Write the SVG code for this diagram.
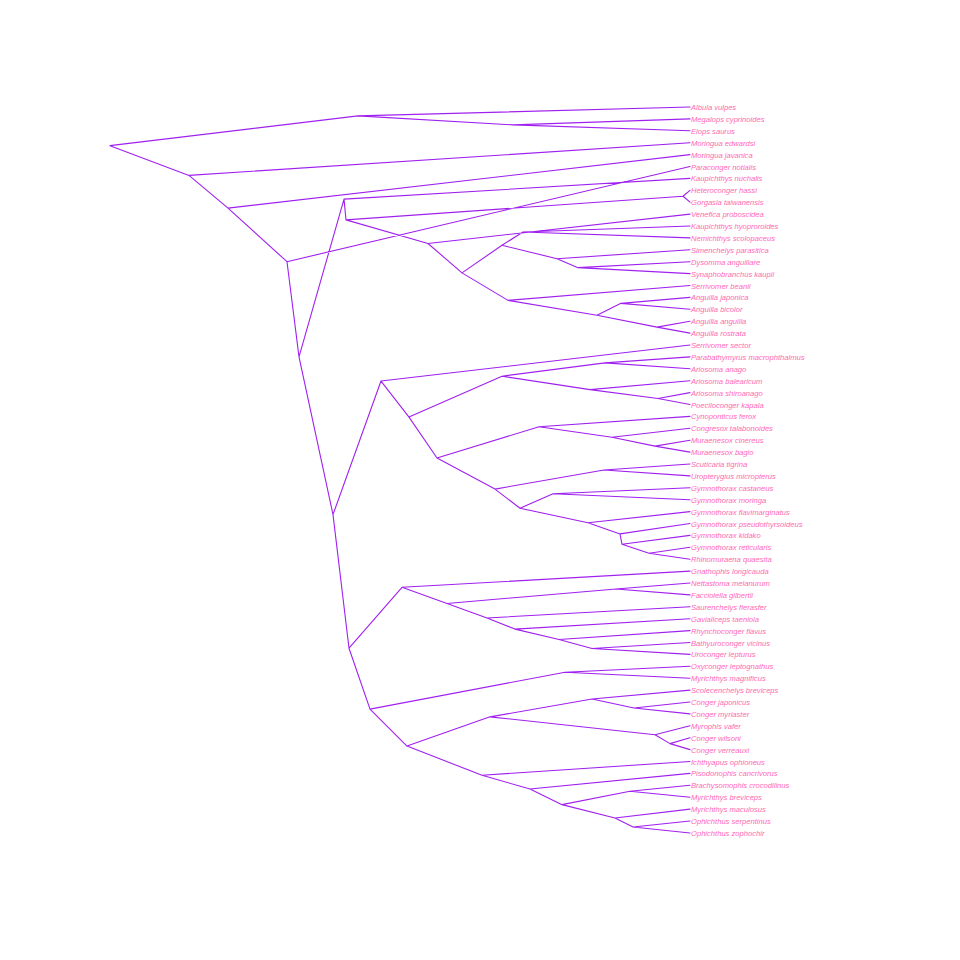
<svg xmlns="http://www.w3.org/2000/svg" width="960" height="960" viewBox="0 0 960 960">
<style>
.e{fill:none;stroke:#A020F0;stroke-width:1.1;stroke-linecap:round}
.t{font-family:"Liberation Sans",Arial,sans-serif;font-style:italic;font-size:7.6px;fill:#FF69B4}
</style>
<rect width="960" height="960" fill="#FFFFFF"/>
<g id="connectors" class="e">
<path d="M110,145.65L358,115.9M110,145.65L189,175.4
M358,115.9L690,107M358,115.9L513,124.85M513,124.85L690,118.9M513,124.85L690,130.8
M189,175.4L690,142.7M189,175.4L228,208.15
M228,208.15L690,154.6M228,208.15L287,261.7
M287,261.7L690,166.5M287,261.7L299,356.9
M299,356.9L344,199.15M299,356.9L333,514.6
M344,199.15L690,178.4M344,199.15L346,219.9
M346,219.9L683,196.25M346,219.9L428,243.5
M683,196.25L690,190.3M683,196.25L690,202.2
M428,243.5L690,214.1M428,243.5L462,272.85
M462,272.85L502,245.3M462,272.85L508,300.4
M502,245.3L523,231.95M502,245.3L557,258.7
M523,231.95L690,226M523,231.95L690,237.9
M557,258.7L690,249.8M557,258.7L578,267.65
M578,267.65L690,261.7M578,267.65L690,273.6
M508,300.4L690,285.5M508,300.4L597,315.25
M597,315.25L621,303.35M597,315.25L657,327.15
M621,303.35L690,297.4M621,303.35L690,309.3
M657,327.15L690,321.2M657,327.15L690,333.1
M333,514.6L381,381.05M333,514.6L349,648.2
M381,381.05L690,345M381,381.05L409,417.1
M409,417.1L502,376.2M409,417.1L437,457.95
M502,376.2L605,362.85M502,376.2L590,389.6
M605,362.85L690,356.9M605,362.85L690,368.8
M590,389.6L690,380.7M590,389.6L658,398.55
M658,398.55L690,392.6M658,398.55L690,404.5
M437,457.95L539,426.8M437,457.95L495,489.1
M539,426.8L690,416.4M539,426.8L612,437.2
M612,437.2L690,428.3M612,437.2L655,446.15
M655,446.15L690,440.2M655,446.15L690,452.1
M495,489.1L604,469.95M495,489.1L520,508.25
M604,469.95L690,464M604,469.95L690,475.9
M520,508.25L553,493.75M520,508.25L588,522.75
M553,493.75L690,487.8M553,493.75L690,499.7
M588,522.75L690,511.6M588,522.75L620,533.9
M620,533.9L690,523.5M620,533.9L622,544.3
M622,544.3L690,535.4M622,544.3L649,553.25
M649,553.25L690,547.3M649,553.25L690,559.2
M349,648.2L402,587.3M349,648.2L370,709.15
M402,587.3L690,571.1M402,587.3L447,603.45
M447,603.45L616,588.95M447,603.45L487,617.95
M616,588.95L690,583M616,588.95L690,594.9
M487,617.95L690,606.8M487,617.95L515,629.1
M515,629.1L690,618.7M515,629.1L559,639.5
M559,639.5L690,630.6M559,639.5L592,648.45
M592,648.45L690,642.5M592,648.45L690,654.4
M370,709.15L565,672.25M370,709.15L407,746.05
M565,672.25L690,666.3M565,672.25L690,678.2
M407,746.05L490,716.85M407,746.05L482,775.25
M490,716.85L592,699M490,716.85L655,734.7
M592,699L690,690.1M592,699L634,707.95
M634,707.95L690,702M634,707.95L690,713.9
M655,734.7L690,725.8M655,734.7L670,743.65
M670,743.65L690,737.7M670,743.65L690,749.6
M482,775.25L690,761.5M482,775.25L530,789
M530,789L690,773.4M530,789L562,804.65
M562,804.65L630,791.25M562,804.65L615,818.05
M630,791.25L690,785.3M630,791.25L690,797.2
M615,818.05L690,809.1M615,818.05L633,827
M633,827L690,821M633,827L690,833"/>
</g>
<g class="t">
<g id="tip01"><text x="691" y="110">Albula vulpes</text></g>
<g id="tip02"><text x="691" y="121.9">Megalops cyprinoides</text></g>
<g id="tip03"><text x="691" y="133.8">Elops saurus</text></g>
<g id="tip04"><text x="691" y="145.7">Moringua edwardsi</text></g>
<g id="tip05"><text x="691" y="157.6">Moringua javanica</text></g>
<g id="tip06"><text x="691" y="169.5">Paraconger notialis</text></g>
<g id="tip07"><text x="691" y="181.4">Kaupichthys nuchalis</text></g>
<g id="tip08"><text x="691" y="193.3">Heteroconger hassi</text></g>
<g id="tip09"><text x="691" y="205.2">Gorgasia taiwanensis</text></g>
<g id="tip10"><text x="691" y="217.1">Venefica proboscidea</text></g>
<g id="tip11"><text x="691" y="229">Kaupichthys hyoproroides</text></g>
<g id="tip12"><text x="691" y="240.9">Nemichthys scolopaceus</text></g>
<g id="tip13"><text x="691" y="252.8">Simenchelys parasitica</text></g>
<g id="tip14"><text x="691" y="264.7">Dysomma anguillare</text></g>
<g id="tip15"><text x="691" y="276.6">Synaphobranchus kaupii</text></g>
<g id="tip16"><text x="691" y="288.5">Serrivomer beanii</text></g>
<g id="tip17"><text x="691" y="300.4">Anguilla japonica</text></g>
<g id="tip18"><text x="691" y="312.3">Anguilla bicolor</text></g>
<g id="tip19"><text x="691" y="324.2">Anguilla anguilla</text></g>
<g id="tip20"><text x="691" y="336.1">Anguilla rostrata</text></g>
<g id="tip21"><text x="691" y="348">Serrivomer sector</text></g>
<g id="tip22"><text x="691" y="359.9">Parabathymyrus macrophthalmus</text></g>
<g id="tip23"><text x="691" y="371.8">Ariosoma anago</text></g>
<g id="tip24"><text x="691" y="383.7">Ariosoma balearicum</text></g>
<g id="tip25"><text x="691" y="395.6">Ariosoma shiroanago</text></g>
<g id="tip26"><text x="691" y="407.5">Poeciloconger kapala</text></g>
<g id="tip27"><text x="691" y="419.4">Cynoponticus ferox</text></g>
<g id="tip28"><text x="691" y="431.3">Congresox talabonoides</text></g>
<g id="tip29"><text x="691" y="443.2">Muraenesox cinereus</text></g>
<g id="tip30"><text x="691" y="455.1">Muraenesox bagio</text></g>
<g id="tip31"><text x="691" y="467">Scuticaria tigrina</text></g>
<g id="tip32"><text x="691" y="478.9">Uropterygius micropterus</text></g>
<g id="tip33"><text x="691" y="490.8">Gymnothorax castaneus</text></g>
<g id="tip34"><text x="691" y="502.7">Gymnothorax moringa</text></g>
<g id="tip35"><text x="691" y="514.6">Gymnothorax flavimarginatus</text></g>
<g id="tip36"><text x="691" y="526.5">Gymnothorax pseudothyrsoideus</text></g>
<g id="tip37"><text x="691" y="538.4">Gymnothorax kidako</text></g>
<g id="tip38"><text x="691" y="550.3">Gymnothorax reticularis</text></g>
<g id="tip39"><text x="691" y="562.2">Rhinomuraena quaesita</text></g>
<g id="tip40"><text x="691" y="574.1">Gnathophis longicauda</text></g>
<g id="tip41"><text x="691" y="586">Nettastoma melanurum</text></g>
<g id="tip42"><text x="691" y="597.9">Facciolella gilbertii</text></g>
<g id="tip43"><text x="691" y="609.8">Saurenchelys fierasfer</text></g>
<g id="tip44"><text x="691" y="621.7">Gavialiceps taeniola</text></g>
<g id="tip45"><text x="691" y="633.6">Rhynchoconger flavus</text></g>
<g id="tip46"><text x="691" y="645.5">Bathyuroconger vicinus</text></g>
<g id="tip47"><text x="691" y="657.4">Uroconger lepturus</text></g>
<g id="tip48"><text x="691" y="669.3">Oxyconger leptognathus</text></g>
<g id="tip49"><text x="691" y="681.2">Myrichthys magnificus</text></g>
<g id="tip50"><text x="691" y="693.1">Scolecenchelys breviceps</text></g>
<g id="tip51"><text x="691" y="705">Conger japonicus</text></g>
<g id="tip52"><text x="691" y="716.9">Conger myriaster</text></g>
<g id="tip53"><text x="691" y="728.8">Myrophis vafer</text></g>
<g id="tip54"><text x="691" y="740.7">Conger wilsoni</text></g>
<g id="tip55"><text x="691" y="752.6">Conger verreauxi</text></g>
<g id="tip56"><text x="691" y="764.5">Ichthyapus ophioneus</text></g>
<g id="tip57"><text x="691" y="776.4">Pisodonophis cancrivorus</text></g>
<g id="tip58"><text x="691" y="788.3">Brachysomophis crocodilinus</text></g>
<g id="tip59"><text x="691" y="800.2">Myrichthys breviceps</text></g>
<g id="tip60"><text x="691" y="812.1">Myrichthys maculosus</text></g>
<g id="tip61"><text x="691" y="824">Ophichthus serpentinus</text></g>
<g id="tip62"><text x="691" y="836">Ophichthus zophochir</text></g>
</g>
</svg>
